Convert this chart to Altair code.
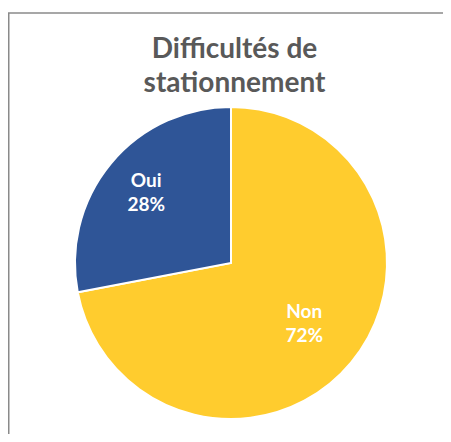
import altair as alt
import pandas as pd

categories = ["Non", "Oui"]
values = [72, 28]
labels = ["72%", "28%"]
colors = ["#FFCC2E", "#2F5597"]
label_radius = [95, 110]

df = pd.DataFrame({
    "cat": categories,
    "val": values,
    "pct": labels,
    "order": [0, 1],
    "lr": label_radius,
})

W, H = 435, 326
cx, cy = 223, 155

pie = alt.Chart(df).mark_arc(radius=156, stroke="white", strokeWidth=2).encode(
    theta=alt.Theta("val:Q", stack=True),
    order=alt.Order("order:Q"),
    x=alt.value(cx), y=alt.value(cy),
    color=alt.Color("cat:N", scale=alt.Scale(domain=categories, range=colors), legend=None),
)

text = alt.Chart(df).transform_joinaggregate(
    total="sum(val)"
).transform_window(
    cum="sum(val)", sort=[alt.SortField("order")], frame=[None, 0]
).transform_calculate(
    mid="(datum.cum - datum.val / 2) / datum.total * 2 * PI",
    lbl="[datum.cat, datum.pct]",
).mark_text(
    font="Lato", fontSize=19, fontWeight="bold", color="white",
    lineHeight=24, baseline="middle", align="center", dy=-12,
).encode(
    x=alt.value(cx), y=alt.value(cy),
    theta=alt.Theta("mid:Q", scale=None, stack=None),
    radius=alt.Radius("lr:Q", scale=None),
    text=alt.Text("lbl:N"),
)

frame_df = pd.DataFrame({"k": [0]})
left_rule = alt.Chart(frame_df).mark_rule(color="#8a8a8a", strokeWidth=1.5).encode(
    x=alt.value(0.75), y=alt.value(-95), y2=alt.value(H + 10)
)
top_rule = alt.Chart(frame_df).mark_rule(color="#8a8a8a", strokeWidth=1.5).encode(
    y=alt.value(-95), x=alt.value(0), x2=alt.value(W + 10)
)

chart = alt.layer(left_rule, top_rule, pie, text).properties(
    width=W, height=H,
    autosize=alt.AutoSizeParams(type="none"),
    padding={"top": 100, "left": 0, "right": 0, "bottom": 0},
    title=alt.TitleParams(
        text=["Difficultés de", "stationnement"],
        font="Lato", fontSize=28, fontWeight="bold", color="#595959",
        anchor="middle", frame="group", lineHeight=34, offset=-86, dx=9,
    ),
).configure_view(stroke=None)

chart.save("out.html", embed_options={"renderer": "svg", "actions": False})
